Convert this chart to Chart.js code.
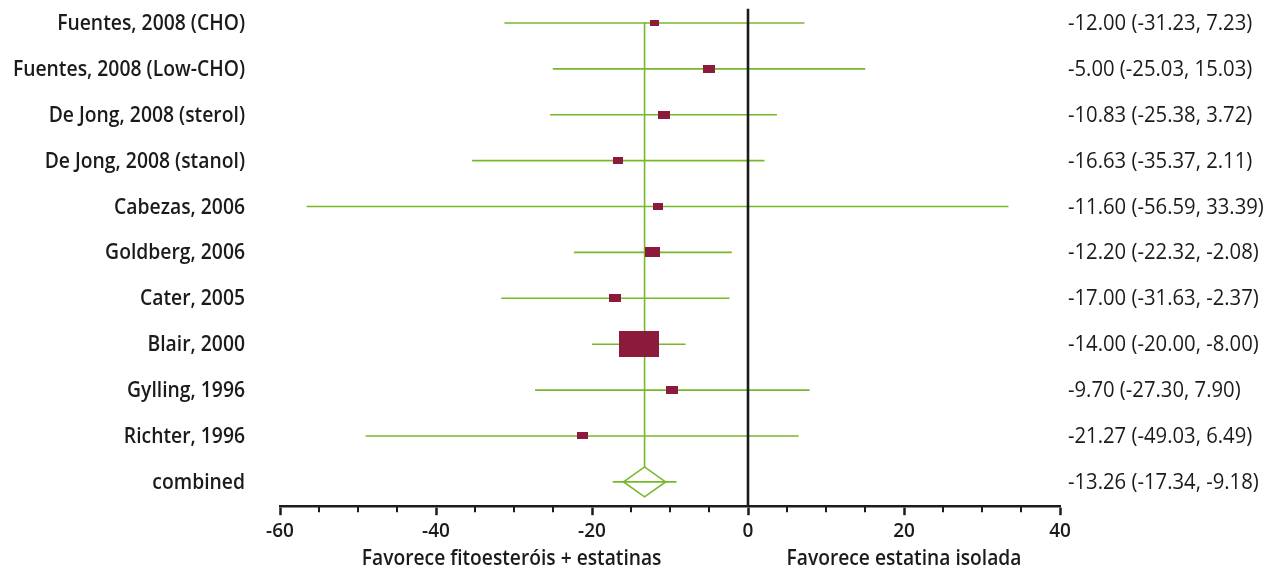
<!DOCTYPE html>
<html>
<head>
<meta charset="utf-8">
<script src="https://cdn.jsdelivr.net/npm/chart.js@4.4.1/dist/chart.umd.min.js"></script>
<style>
  html, body { margin: 0; padding: 0; background: #fff; }
  #wrap { width: 1273px; height: 572px; position: relative; }
</style>
</head>
<body>
<div id="wrap"><canvas id="forest"></canvas></div>
<script>
const studies = [
  'Fuentes, 2008 (CHO)',
  'Fuentes, 2008 (Low-CHO)',
  'De Jong, 2008 (sterol)',
  'De Jong, 2008 (stanol)',
  'Cabezas, 2006',
  'Goldberg, 2006',
  'Cater, 2005',
  'Blair, 2000',
  'Gylling, 1996',
  'Richter, 1996'
];
const estimates = [-12.00, -5.00, -10.83, -16.63, -11.60, -12.20, -17.00, -14.00, -9.70, -21.27];
const lower = [-31.23, -25.03, -25.38, -35.37, -56.59, -22.32, -31.63, -20.00, -27.30, -49.03];
const upper = [7.23, 15.03, 3.72, 2.11, 33.39, -2.08, -2.37, -8.00, 7.90, 6.49];
// relative box weight (Blair is the largest)
const boxWeights = [9, 12, 12, 10, 10, 15, 12, 40, 12, 11];

const combinedLabel = 'combined';
const combined = { est: -13.26, lo: -17.34, hi: -9.18 };

const xTicks = [-60, -40, -20, 0, 20, 40];
const favourLeft = 'Favorece fitoesteróis + estatinas';
const favourRight = 'Favorece estatina isolada';

const GREEN = '#76b82a';
const MAROON = '#8c1a3c';
const INK = '#1b1b1b';
const FONT = '"Open Sans", "Noto Sans", sans-serif';

const fmt = (v) => v.toFixed(2);
const rowLabels = studies.concat([combinedLabel]);
const rowTexts = estimates.map((e, i) => `${fmt(e)} (${fmt(lower[i])}, ${fmt(upper[i])})`)
  .concat([`${fmt(combined.est)} (${fmt(combined.lo)}, ${fmt(combined.hi)})`]);

function boxImage(w) {
  const c = document.createElement('canvas');
  c.width = Math.round(w);
  c.height = Math.round(w * 0.66);
  const g = c.getContext('2d');
  g.fillStyle = MAROON;
  g.fillRect(0, 0, c.width, c.height);
  return c;
}

// draw text a little condensed, the original face is narrower than Open Sans
function narrowText(ctx, text, x, y, align, sx) {
  ctx.save();
  ctx.translate(x, y);
  ctx.scale(sx, 1);
  ctx.textAlign = align;
  ctx.fillText(text, 0, 0);
  ctx.restore();
}

// CI lines: one small line dataset per study
const ciSets = studies.map((s, i) => ({
  type: 'line',
  data: [{ x: lower[i], y: i }, { x: upper[i], y: i }],
  borderColor: GREEN,
  borderWidth: 1.6,
  pointRadius: 0,
  order: 2
}));

const boxSet = {
  type: 'scatter',
  data: estimates.map((e, i) => ({ x: e, y: i })),
  pointStyle: boxWeights.map((w) => boxImage(w)),
  pointRadius: 10,
  order: 1
};

const combinedRow = studies.length;

const forestPlugin = {
  id: 'forest',
  beforeDatasetsDraw(chart) {
    const { ctx, scales: { x, y } } = chart;
    ctx.save();
    // pooled estimate vertical
    const cx = x.getPixelForValue(combined.est);
    const cy = y.getPixelForValue(combinedRow);
    ctx.strokeStyle = GREEN;
    ctx.lineWidth = 1.6;
    ctx.beginPath();
    ctx.moveTo(cx, y.getPixelForValue(0) - 1);
    ctx.lineTo(cx, cy - 15);
    ctx.stroke();
    // combined CI + diamond
    ctx.beginPath();
    ctx.moveTo(x.getPixelForValue(combined.lo), cy);
    ctx.lineTo(x.getPixelForValue(combined.hi), cy);
    ctx.stroke();
    ctx.beginPath();
    ctx.moveTo(cx - 21, cy);
    ctx.lineTo(cx, cy - 15);
    ctx.lineTo(cx + 21, cy);
    ctx.lineTo(cx, cy + 15);
    ctx.closePath();
    ctx.stroke();
    ctx.restore();
  },
  afterDatasetsDraw(chart) {
    const { ctx, chartArea, scales: { x, y } } = chart;
    ctx.save();
    // null line
    const zx = x.getPixelForValue(0);
    ctx.strokeStyle = INK;
    ctx.lineWidth = 2.6;
    ctx.beginPath();
    ctx.moveTo(zx, y.getPixelForValue(-0.31));
    ctx.lineTo(zx, chartArea.bottom);
    ctx.stroke();
    // minor ticks
    ctx.lineWidth = 2;
    for (let v = -55; v < 40; v += 5) {
      if (v % 20 === 0) continue;
      const px = x.getPixelForValue(v);
      ctx.beginPath();
      ctx.moveTo(px, chartArea.bottom);
      ctx.lineTo(px, chartArea.bottom + 6);
      ctx.stroke();
    }
    // row labels
    ctx.fillStyle = INK;
    ctx.textBaseline = 'middle';
    rowLabels.forEach((t, i) => {
      const py = y.getPixelForValue(i) + 1;
      ctx.font = `600 21px ${FONT}`;
      narrowText(ctx, t, 245, py, 'right', 0.92);
      ctx.font = `400 21px ${FONT}`;
      narrowText(ctx, rowTexts[i], 1068, py, 'left', 0.965);
    });
    // favour captions
    ctx.font = `600 21px ${FONT}`;
    narrowText(ctx, favourLeft, x.getPixelForValue(-30.3), 559, 'center', 0.915);
    narrowText(ctx, favourRight, x.getPixelForValue(20), 559, 'center', 0.915);
    ctx.restore();
  }
};

new Chart(document.getElementById('forest'), {
  type: 'scatter',
  data: { datasets: [boxSet, ...ciSets] },
  options: {
    responsive: true,
    maintainAspectRatio: false,
    animation: false,
    layout: { autoPadding: false, padding: { left: 280, right: 213, top: 0, bottom: 24 } },
    plugins: { legend: { display: false }, tooltip: { enabled: false } },
    scales: {
      x: {
        type: 'linear',
        min: -60,
        max: 40,
        afterBuildTicks: (axis) => { axis.ticks = xTicks.map((v) => ({ value: v })); },
        ticks: {
          color: INK,
          padding: 5,
          font: { family: FONT, size: 19, weight: '600' },
          maxRotation: 0
        },
        grid: {
          drawOnChartArea: false,
          drawTicks: true,
          tickLength: 9,
          tickWidth: 2.5,
          tickColor: INK
        },
        border: { display: true, color: INK, width: 2.6 }
      },
      y: {
        type: 'linear',
        reverse: true,
        min: -0.5,
        max: 10.53,
        display: false
      }
    }
  },
  plugins: [forestPlugin]
});
</script>
</body>
</html>
